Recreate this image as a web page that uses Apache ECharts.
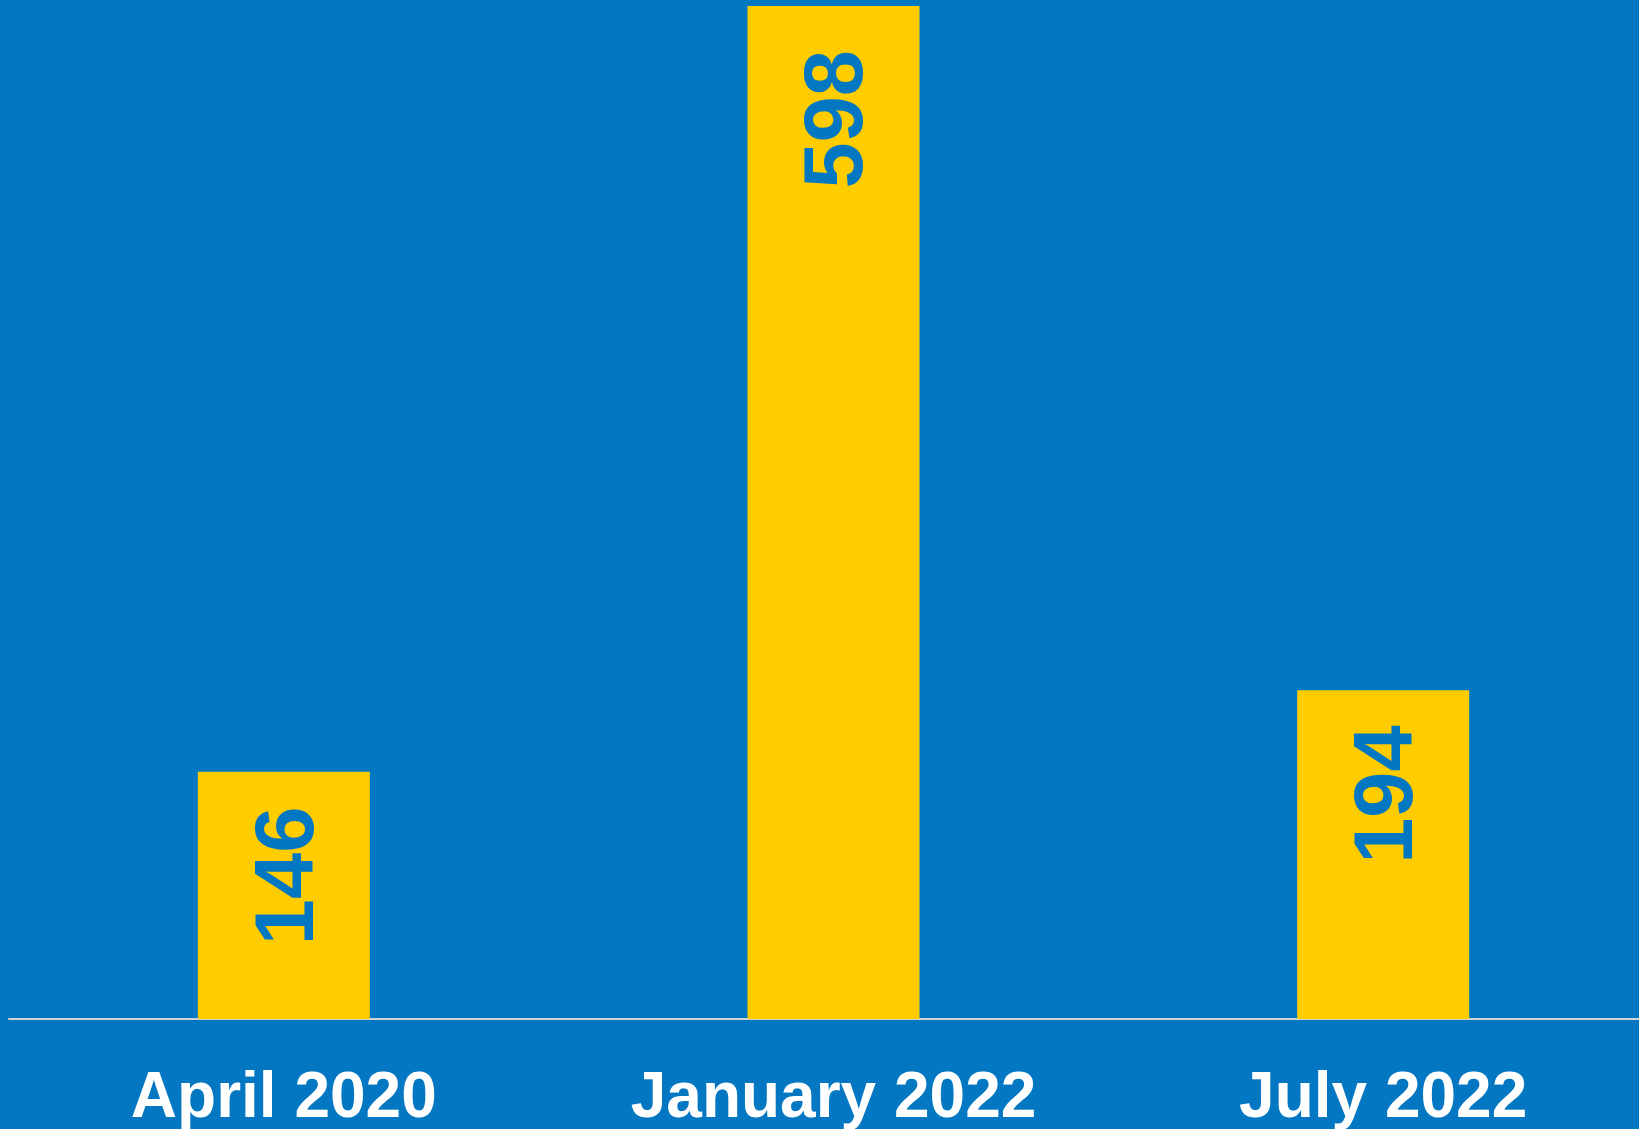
<!DOCTYPE html>
<html>
<head>
<meta charset="utf-8">
<script src="https://cdn.jsdelivr.net/npm/echarts@6/dist/echarts.min.js"></script>
<style>
  html, body { margin: 0; padding: 0; background: #0377C1; }
  #chart { width: 1639px; height: 1129px; }
</style>
</head>
<body>
<div id="chart"></div>
<script>
const categories = ['April 2020', 'January 2022', 'July 2022'];
const counts = [146, 598, 194];

const BLUE = '#0377C1';
const YELLOW = '#FFCC00';
const FONT = '"Liberation Sans", Arial, Helvetica, sans-serif';

const chart = echarts.init(document.getElementById('chart'), null, { renderer: 'canvas' });

// the tallest bar's label sits a bit further down from the bar top
const barData = counts.map((v) => ({
  value: v,
  label: { distance: v === Math.max(...counts) ? 44 : 35 }
}));

chart.setOption({
  backgroundColor: BLUE,
  animation: false,
  // the plot area runs a little past the right edge of the canvas
  grid: {
    left: 9, width: 1649, top: 6, bottom: 110,
    containLabel: false,
    outerBoundsMode: 'none'
  },
  xAxis: {
    type: 'category',
    data: categories,
    axisLine: { show: true, lineStyle: { color: '#d2d2d2', width: 2 } },
    axisTick: { show: false },
    axisLabel: {
      color: '#ffffff',
      fontFamily: FONT,
      fontWeight: 'bold',
      fontSize: 64,
      margin: 48
    }
  },
  yAxis: {
    type: 'value',
    min: 0,
    max: 598,
    show: false,
    splitLine: { show: false }
  },
  series: [{
    type: 'bar',
    data: barData,
    barWidth: 172,
    itemStyle: { color: YELLOW },
    label: {
      show: true,
      position: 'insideTop',
      rotate: 90,
      align: 'right',
      verticalAlign: 'middle',
      offset: [0, 6],
      color: BLUE,
      fontFamily: FONT,
      fontWeight: 'bold',
      fontSize: 83
    }
  }]
});
</script>
</body>
</html>
